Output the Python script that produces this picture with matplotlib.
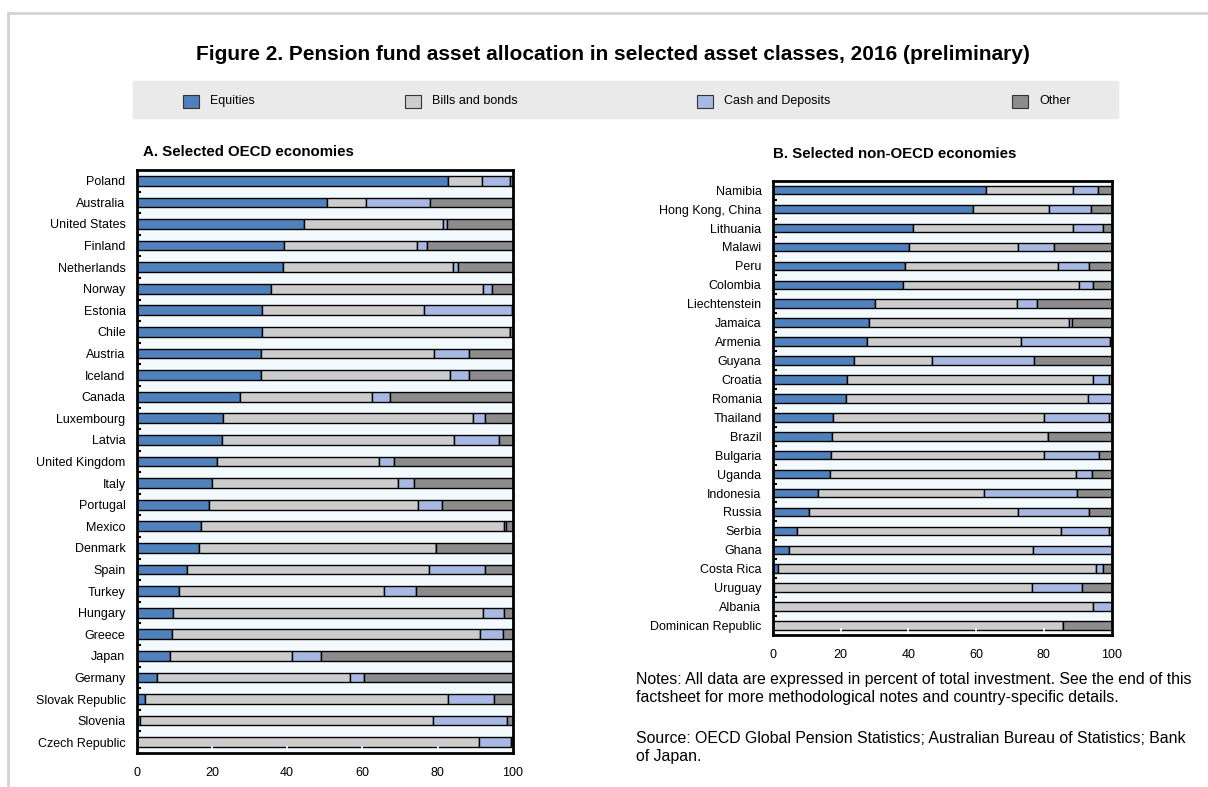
import numpy as np
import matplotlib.pyplot as plt
from matplotlib.patches import Rectangle
from matplotlib.lines import Line2D

plt.rcParams['font.family'] = ['Liberation Sans', 'DejaVu Sans']

series = ['Equities', 'Bills and bonds', 'Cash and Deposits', 'Other']
colors = ['#4F81BD', '#CCCCCC', '#A7B9E3', '#8C8C8C']

# Panel A - OECD
oecd = ['Poland', 'Australia', 'United States', 'Finland', 'Netherlands', 'Norway',
        'Estonia', 'Chile', 'Austria', 'Iceland', 'Canada', 'Luxembourg', 'Latvia',
        'United Kingdom', 'Italy', 'Portugal', 'Mexico', 'Denmark', 'Spain', 'Turkey',
        'Hungary', 'Greece', 'Japan', 'Germany', 'Slovak Republic', 'Slovenia',
        'Czech Republic']
oecd_eq = [82.9, 50.5, 44.5, 39.3, 38.8, 35.7, 33.4, 33.4, 33.0, 33.0, 27.5, 23.0, 22.7,
           21.4, 20.0, 19.3, 17.2, 16.6, 13.3, 11.3, 9.7, 9.5, 8.9, 5.3, 2.2, 0.9, 0.0]
oecd_bonds = [8.9, 10.5, 37.0, 35.3, 45.4, 56.3, 43.1, 65.9, 46.2, 50.3, 35.2, 66.5, 61.8,
              43.0, 49.4, 55.4, 80.5, 62.9, 64.4, 54.5, 82.3, 81.8, 32.5, 51.4, 80.5, 78.0, 91.1]
oecd_cash = [7.5, 17.0, 0.9, 2.7, 1.3, 2.6, 23.2, 0.0, 9.2, 5.1, 4.7, 3.0, 11.9,
             4.0, 4.4, 6.4, 0.4, 0.0, 14.9, 8.5, 5.8, 6.2, 7.6, 3.8, 12.4, 19.5, 8.5]
oecd_other = [0.7, 22.0, 17.6, 22.7, 14.5, 5.4, 0.3, 0.7, 11.6, 11.6, 32.6, 7.5, 3.6,
              31.6, 26.2, 18.9, 1.9, 20.5, 7.4, 25.7, 2.2, 2.5, 51.0, 39.5, 4.9, 1.6, 0.4]

# Panel B - non-OECD
non_oecd = ['Namibia', 'Hong Kong, China', 'Lithuania', 'Malawi', 'Peru', 'Colombia',
            'Liechtenstein', 'Jamaica', 'Armenia', 'Guyana', 'Croatia', 'Romania',
            'Thailand', 'Brazil', 'Bulgaria', 'Uganda', 'Indonesia', 'Russia', 'Serbia',
            'Ghana', 'Costa Rica', 'Uruguay', 'Albania', 'Dominican Republic']
non_eq = [62.9, 59.2, 41.5, 40.1, 39.1, 38.5, 30.3, 28.5, 27.7, 24.1, 22.0, 21.5,
          17.9, 17.6, 17.2, 16.9, 13.3, 10.8, 7.3, 4.7, 1.7, 0.3, 0.0, 0.0]
non_bonds = [25.8, 22.4, 47.0, 32.4, 45.2, 52.0, 41.7, 58.9, 45.5, 22.8, 72.6, 71.4,
             62.1, 63.7, 62.9, 72.6, 49.1, 61.5, 77.7, 72.0, 93.7, 76.1, 94.4, 85.5]
non_cash = [7.4, 12.2, 8.8, 10.6, 9.1, 3.9, 6.1, 1.0, 26.3, 30.2, 4.6, 7.1,
            19.2, 0.0, 16.2, 4.6, 27.5, 21.1, 14.2, 23.3, 2.1, 14.8, 5.6, 0.0]
non_other = [3.9, 6.2, 2.7, 16.9, 6.6, 5.6, 21.9, 11.6, 0.5, 22.9, 0.8, 0.0,
             0.8, 18.7, 3.7, 5.9, 10.1, 6.6, 0.8, 0.0, 2.5, 8.8, 0.0, 14.5]

W, H = 1208, 787
fig = plt.figure(figsize=(W / 100, H / 100), dpi=100)


def px(x0, y0, x1, y1):
    return [x0 / W, 1 - y1 / H, (x1 - x0) / W, (y1 - y0) / H]


def panel(ax, names, data):
    y = np.arange(len(names))
    left = np.zeros(len(names))
    for vals, col in zip(data, colors):
        ax.barh(y, vals, left=left, height=0.45, color=col, edgecolor='black', linewidth=1.0)
        left = left + np.array(vals)
    ax.set_facecolor('#F3FAFE')
    ax.set_xlim(0, 100)
    ax.set_ylim(len(names) - 0.5, -0.5)
    ax.set_yticks(y)
    ax.set_yticklabels(names, fontsize=9)
    ax.set_yticks(y[:-1] + 0.5, minor=True)
    ax.tick_params(axis='y', which='major', length=0, pad=8)
    ax.tick_params(axis='y', which='minor', direction='in', length=3, width=1.5, color='black')
    ax.set_xticks([0, 20, 40, 60, 80, 100])
    ax.tick_params(axis='x', direction='in', length=5, width=1.2, color='white',
                   labelsize=9, pad=10)
    for s in ax.spines.values():
        s.set_linewidth(2)
        s.set_color('black')


ax1 = fig.add_axes(px(136.7, 170, 512.7, 753))
panel(ax1, oecd, [oecd_eq, oecd_bonds, oecd_cash, oecd_other])
ax2 = fig.add_axes(px(772.7, 180.7, 1111.7, 635))
panel(ax2, non_oecd, [non_eq, non_bonds, non_cash, non_other])

fig.text(613 / W, 1 - 55 / H,
         'Figure 2. Pension fund asset allocation in selected asset classes, 2016 (preliminary)',
         ha='center', va='center', fontsize=15, fontweight='bold')
fig.text(143 / W, 1 - 152 / H, 'A. Selected OECD economies', ha='left', va='center',
         fontsize=10.8, fontweight='bold')
fig.text(773 / W, 1 - 154 / H, 'B. Selected non-OECD economies', ha='left', va='center',
         fontsize=10.8, fontweight='bold')

# legend band
fig.patches.append(Rectangle((133 / W, 1 - 118 / H), (1118 - 133) / W, 37 / H,
                             transform=fig.transFigure, color='#EAEAEA', zorder=0))
leg_x = [183, 405, 697, 1012]
for xp, name, col in zip(leg_x, series, colors):
    fig.patches.append(Rectangle((xp / W, 1 - 108 / H), 16 / W, 13 / H,
                                 transform=fig.transFigure, facecolor=col,
                                 edgecolor='#333333', linewidth=0.8))
    fig.text((xp + 27) / W, 1 - 101 / H, name, ha='left', va='center', fontsize=9)

fig.text(636 / W, 1 - 688.5 / H,
         'Notes: All data are expressed in percent of total investment. See the end of this\n'
         'factsheet for more methodological notes and country-specific details.',
         ha='left', va='center', fontsize=11.4, linespacing=1.2)
fig.text(636 / W, 1 - 747.5 / H,
         'Source: OECD Global Pension Statistics; Australian Bureau of Statistics; Bank\n'
         'of Japan.',
         ha='left', va='center', fontsize=11.4, linespacing=1.2)

# outer frame
fig.lines.append(Line2D([8 / W, 1], [1 - 13 / H, 1 - 13 / H], transform=fig.transFigure,
                        color='#D3D3D3', linewidth=2))
fig.lines.append(Line2D([8 / W, 8 / W], [0, 1 - 13 / H], transform=fig.transFigure,
                        color='#D3D3D3', linewidth=2))

fig.savefig('out.png', dpi=100)
